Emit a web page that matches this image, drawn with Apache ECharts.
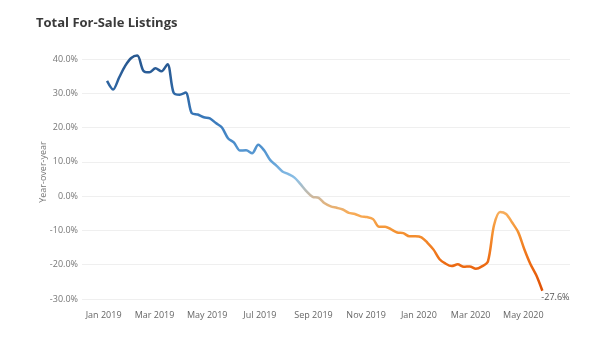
<!DOCTYPE html>
<html>
<head>
<meta charset="utf-8">
<title>Total For-Sale Listings</title>
<script src="https://cdn.jsdelivr.net/npm/echarts@6/dist/echarts.min.js"></script>
<style>
  html, body { margin: 0; padding: 0; background: #ffffff; }
  #chart { width: 600px; height: 340px; }
</style>
</head>
<body>
<div id="chart"></div>
<script>
// Weekly year-over-year change in total for-sale listings (%), weeks ending Saturday.
const firstWeekEnding = '2019-01-05';
const yoyChange = [
  33.6, 31.1, 34.6, 38.0, 40.3, 41.0, 36.6, 36.1, 37.3, 36.4,
  38.5, 30.2, 29.6, 30.2, 24.2, 23.8, 23.0, 22.7, 21.3, 20.0,
  16.9, 15.6, 13.3, 13.4, 12.5, 15.0, 13.3, 10.5, 8.9, 7.2,
  6.4, 5.4, 3.5, 1.4, -0.2, -0.5, -2.1, -3.0, -3.4, -3.9,
  -4.9, -5.2, -5.9, -6.1, -6.7, -8.9, -8.9, -9.7, -10.6, -10.8,
  -11.7, -11.7, -12.0, -13.6, -15.6, -18.4, -19.7, -20.4, -19.9, -20.6,
  -20.5, -21.2, -20.5, -19.0, -8.5, -4.6, -5.2, -7.7, -10.5, -15.4,
  -19.7, -23.1, -27.6
];
const yTicks = [-30, -20, -10, 0, 10, 20, 30, 40];
const xRange = ['2018-12-07', '2020-06-24'];

// Diverging colour scale, one stop every 5 points from -30% to +40%:
// orange below zero, a neutral tan at zero, blue above.
const colourStops = [
  '#d84a04', '#e45808', '#ec6a12', '#f17e22', '#f49434', '#f8ac58',
  '#cdb9a0',
  '#8dc0e6', '#62a2d8', '#4d8fcc', '#3e7fc0', '#3573b4', '#2f68a6', '#2b5f9a', '#285890'
];

const DAY = 24 * 3600 * 1000;
const start = Date.parse(firstWeekEnding + 'T00:00:00Z');
const seriesData = yoyChange.map((v, i) => [start + i * 7 * DAY, v]);

const font = '"Open Sans", "Noto Sans", sans-serif';

const chart = echarts.init(document.getElementById('chart'), null, { renderer: 'canvas' });
chart.setOption({
  animation: false,
  useUTC: true,
  backgroundColor: '#ffffff',
  title: {
    text: 'Total For-Sale Listings',
    left: 31,
    top: 12,
    textStyle: { fontFamily: font, fontSize: 13, fontWeight: 'bold', color: '#3a3a3a' }
  },
  grid: { left: 82, right: 30, top: 59, bottom: 41, containLabel: false },
  xAxis: {
    type: 'time',
    min: Date.parse(xRange[0] + 'T00:00:00Z'),
    max: Date.parse(xRange[1] + 'T00:00:00Z'),
    splitNumber: 8,
    axisLine: { show: false },
    axisTick: { show: false },
    splitLine: { show: false },
    axisLabel: {
      formatter: '{MMM} {yyyy}',
      showMinLabel: false,
      showMaxLabel: false,
      margin: 12,
      fontFamily: font,
      fontSize: 9,
      color: '#666666'
    }
  },
  yAxis: {
    type: 'value',
    min: yTicks[0],
    max: yTicks[yTicks.length - 1],
    interval: 10,
    name: 'Year-over-year',
    nameLocation: 'middle',
    nameGap: 34,
    nameMoveOverlap: false,
    nameTextStyle: { fontFamily: font, fontSize: 9, color: '#777777', padding: [0, 0, 0, 14] },
    axisLine: { show: false },
    axisTick: { show: false },
    splitLine: { lineStyle: { color: '#efefef', width: 1 } },
    axisLabel: {
      formatter: v => v.toFixed(1) + '%',
      margin: 4,
      fontFamily: font,
      fontSize: 9,
      color: '#777777'
    }
  },
  visualMap: {
    show: false,
    type: 'continuous',
    dimension: 1,
    seriesIndex: 0,
    min: -30,
    max: 40,
    inRange: { color: colourStops }
  },
  series: [{
    type: 'line',
    data: seriesData,
    smooth: 0.3,
    clip: false,
    showSymbol: false,
    lineStyle: { width: 2.5 },
    endLabel: {
      show: true,
      formatter: p => p.value[1].toFixed(1) + '%',
      offset: [-9, 7],
      fontFamily: font,
      fontSize: 9,
      color: '#555555'
    }
  }]
});
</script>
</body>
</html>
